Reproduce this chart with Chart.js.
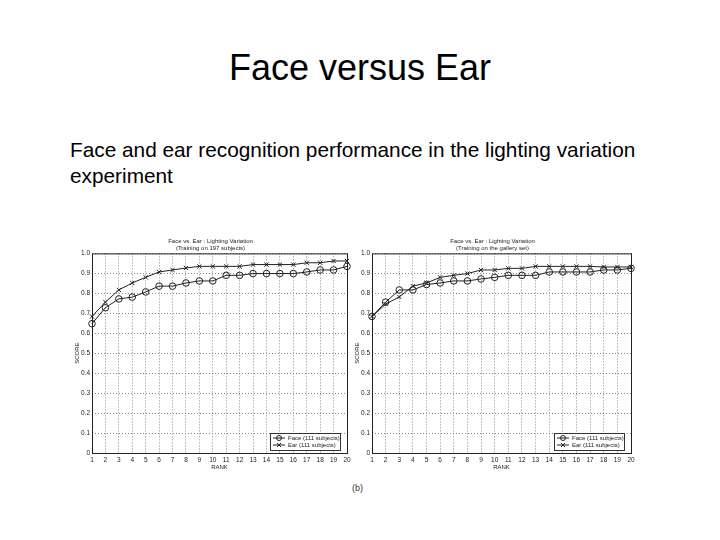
<!DOCTYPE html>
<html>
<head>
<meta charset="utf-8">
<script src="https://cdn.jsdelivr.net/npm/chart.js@4.4.1/dist/chart.umd.min.js"></script>
<style>
  body { margin: 0; background: #fff; }
  #slide { position: relative; width: 720px; height: 540px; font-family: "Liberation Sans", Arial, sans-serif; }
  #titulo { position: absolute; top: 47px; left: 0; width: 720px; text-align: center; font-size: 36px; color: #000; }
  #sub { position: absolute; top: 137px; left: 70px; width: 590px; font-size: 20.8px; line-height: 26px; color: #000; }
  .graf { position: absolute; top: 234px; }
  #rotulo { position: absolute; top: 483px; left: 352px; font-size: 9px; color: #333; }
</style>
</head>
<body>
<div id="slide">
  <div id="titulo">Face versus Ear</div>
  <div id="sub">Face and ear recognition performance in the lighting variation experiment</div>
  <canvas id="grafico1" class="graf" style="left:74px" width="280" height="240"></canvas>
  <canvas id="grafico2" class="graf" style="left:354px" width="284" height="240"></canvas>
  <div id="rotulo">(b)</div>
</div>
<script>
const ranks = [1,2,3,4,5,6,7,8,9,10,11,12,13,14,15,16,17,18,19,20];
const yTicks = [0,0.1,0.2,0.3,0.4,0.5,0.6,0.7,0.8,0.9,1.0];

// grafico 1: treino com 197 sujeitos
const face1 = [0.648,0.728,0.772,0.781,0.807,0.836,0.836,0.852,0.862,0.862,0.890,0.890,0.899,0.899,0.899,0.899,0.907,0.917,0.917,0.935];
const ear1  = [0.684,0.756,0.817,0.852,0.880,0.907,0.917,0.927,0.935,0.935,0.935,0.935,0.944,0.944,0.944,0.944,0.953,0.953,0.962,0.962];

// grafico 2: treino com o gallery set
const face2 = [0.684,0.756,0.817,0.817,0.844,0.852,0.862,0.862,0.872,0.880,0.890,0.890,0.890,0.907,0.907,0.907,0.907,0.917,0.917,0.925];
const ear2  = [0.684,0.746,0.782,0.836,0.852,0.880,0.890,0.899,0.917,0.917,0.925,0.925,0.935,0.935,0.935,0.935,0.935,0.932,0.932,0.932];

const legendas = ['Face (111 subjects)', 'Ear (111 subjects)'];
const corLinha = '#222';
const fonte = "'Liberation Sans', Arial, sans-serif";

// moldura + legenda dentro da area do grafico (estilo matlab)
const molduraPlugin = {
    id: 'moldura',
    afterDraw(chart) {
        const ctx = chart.ctx;
        const a = chart.chartArea;
        ctx.save();
        ctx.strokeStyle = '#222';
        ctx.lineWidth = 1;
        ctx.strokeRect(a.left + 0.5, a.top + 0.5, a.right - a.left, a.bottom - a.top);

        // caixa da legenda
        const w = 70, h = 17;
        const x = a.right - w - 7, y = a.bottom - h - 3;
        ctx.fillStyle = '#fff';
        ctx.fillRect(x, y, w, h);
        ctx.strokeStyle = '#333';
        ctx.strokeRect(x + 0.5, y + 0.5, w, h);
        ctx.font = '6px ' + fonte;
        ctx.textBaseline = 'middle';
        chart.data.datasets.forEach((ds, i) => {
            const ly = y + 5 + i * 7;
            ctx.strokeStyle = corLinha;
            ctx.beginPath();
            ctx.moveTo(x + 3, ly);
            ctx.lineTo(x + 15, ly);
            ctx.stroke();
            if (ds.pointStyle === 'circle') {
                ctx.beginPath();
                ctx.arc(x + 9, ly, 2.5, 0, Math.PI * 2);
                ctx.stroke();
            } else {
                ctx.beginPath();
                ctx.moveTo(x + 7, ly - 2); ctx.lineTo(x + 11, ly + 2);
                ctx.moveTo(x + 7, ly + 2); ctx.lineTo(x + 11, ly - 2);
                ctx.stroke();
            }
            ctx.fillStyle = '#222';
            ctx.fillText(ds.label, x + 18, ly);
        });
        ctx.restore();
    }
};

function desenha_grafico(id, face, ear, subtitulo) {
    const ctx = document.getElementById(id).getContext('2d');
    new Chart(ctx, {
        type: 'line',
        data: {
            labels: ranks,
            datasets: [{
                label: legendas[0],
                data: face,
                borderColor: corLinha,
                borderWidth: 1,
                pointStyle: 'circle',
                pointRadius: 3.3,
                pointBackgroundColor: 'rgba(255,255,255,0)',
                pointBorderColor: corLinha,
                pointBorderWidth: 1,
                tension: 0
            }, {
                label: legendas[1],
                data: ear,
                borderColor: corLinha,
                borderWidth: 1,
                pointStyle: 'crossRot',
                pointRadius: 3,
                pointBorderColor: corLinha,
                pointBorderWidth: 1,
                tension: 0
            }]
        },
        options: {
            responsive: false,
            animation: false,
            layout: { padding: { left: 0, right: 7, top: 0, bottom: 3 } },
            plugins: {
                legend: { display: false },
                tooltip: { enabled: false },
                title: {
                    display: true,
                    text: ['Face vs. Ear : Lighting Variation', subtitulo],
                    color: '#222',
                    font: { family: fonte, size: 6, weight: 'normal', lineHeight: 1.2 },
                    padding: { top: 4, bottom: 1 }
                }
            },
            scales: {
                x: {
                    type: 'category',
                    offset: false,
                    grid: { color: '#888', drawTicks: false },
                    border: { display: false, dash: [1, 2] },
                    ticks: { color: '#222', font: { family: fonte, size: 6.5 }, padding: 3, maxRotation: 0, autoSkip: false },
                    title: { display: true, text: 'RANK', color: '#222', font: { family: fonte, size: 6 }, padding: 0 },
                    afterFit(scale) { scale.height = 18; }
                },
                y: {
                    min: 0,
                    max: 1,
                    afterBuildTicks(scale) { scale.ticks = yTicks.map(v => ({ value: v })); },
                    grid: { color: '#888', drawTicks: false },
                    border: { display: false, dash: [1, 2] },
                    ticks: {
                        color: '#222',
                        font: { family: fonte, size: 6.5 },
                        padding: 2,
                        callback: v => v === 0 ? '0' : v.toFixed(1)
                    },
                    title: { display: true, text: 'SCORE', color: '#222', font: { family: fonte, size: 6 }, padding: 0 },
                    afterFit(scale) { scale.width = 18; }
                }
            }
        },
        plugins: [molduraPlugin]
    });
}

desenha_grafico('grafico1', face1, ear1, '(Training on 197 subjects)');
desenha_grafico('grafico2', face2, ear2, '(Training on the gallery set)');
</script>
</body>
</html>
